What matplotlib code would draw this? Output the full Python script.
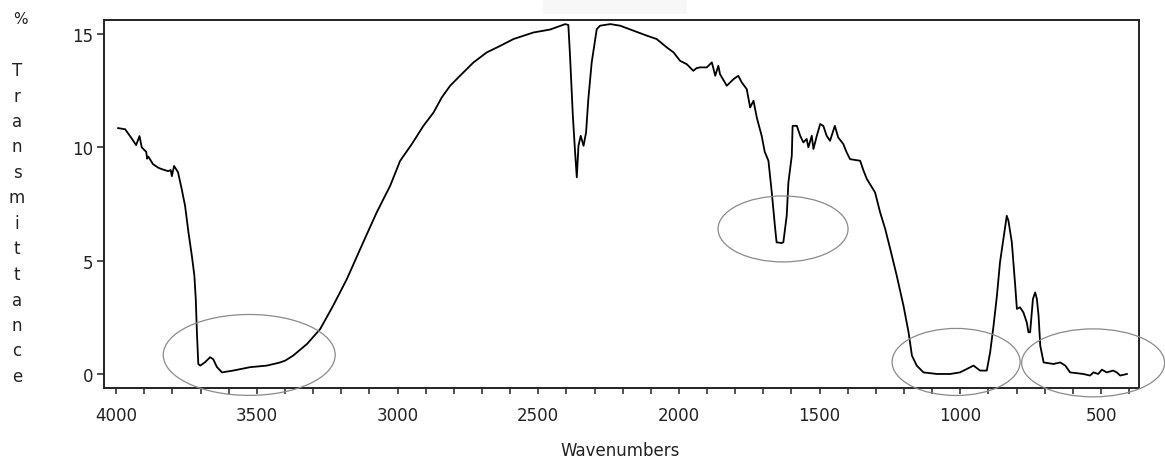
import matplotlib
matplotlib.use('Agg')
import matplotlib.pyplot as plt
from matplotlib.patches import Ellipse, Rectangle
from matplotlib.ticker import MultipleLocator

plt.rcParams['font.family'] = ['DejaVu Sans']

# spectrum (wavenumber cm-1, % transmittance)
wavenumber = [3993, 3968, 3945, 3929, 3917, 3909, 3893, 3890, 3886, 3869, 3850,
              3838, 3815, 3806, 3802, 3794, 3780, 3767, 3755, 3743, 3731, 3722,
              3717, 3713, 3708, 3701, 3684, 3666, 3655, 3642, 3624, 3584, 3524,
              3464, 3420, 3399, 3371, 3322, 3275, 3229, 3180, 3122, 3074, 3026,
              2991, 2949, 2908, 2872, 2843, 2813, 2778, 2730, 2683, 2635, 2588,
              2517, 2458, 2404, 2393, 2387, 2377, 2369, 2363, 2357, 2349, 2339,
              2330, 2322, 2310, 2292, 2280, 2244, 2209, 2162, 2114, 2079, 2043,
              2019, 1996, 1972, 1949, 1937, 1925, 1901, 1883, 1871, 1860, 1854,
              1830, 1806, 1789, 1777, 1759, 1747, 1735, 1723, 1706, 1695, 1682,
              1670, 1659, 1653, 1635, 1629, 1617, 1611, 1599, 1596, 1581, 1569,
              1558, 1546, 1540, 1528, 1522, 1510, 1498, 1487, 1475, 1463, 1446,
              1434, 1416, 1404, 1392, 1356, 1344, 1332, 1303, 1285, 1267, 1249,
              1226, 1202, 1184, 1172, 1155, 1131, 1083, 1036, 1001, 977, 953,
              930, 906, 894, 882, 870, 859, 847, 835, 829, 817, 805, 799, 788,
              776, 764, 758, 752, 742, 734, 728, 722, 716, 704, 669, 645, 627,
              610, 563, 539, 527, 510, 497, 480, 457, 444, 432, 408]
transmittance = [10.85, 10.8, 10.4, 10.1, 10.5, 10.0, 9.8, 9.5, 9.6, 9.26, 9.1,
                 9.04, 8.95, 9.0, 8.73, 9.18, 8.9, 8.16, 7.42, 6.25, 5.22, 4.34,
                 3.31, 1.84, 0.44, 0.37, 0.52, 0.74, 0.65, 0.31, 0.07, 0.15, 0.3,
                 0.37, 0.5, 0.59, 0.81, 1.32, 1.98, 3.01, 4.19, 5.81, 7.13, 8.31,
                 9.4, 10.15, 10.95, 11.54, 12.2, 12.72, 13.16, 13.75, 14.19, 14.48, 14.78,
                 15.07, 15.2, 15.44, 15.4, 14.04, 11.4, 9.78, 8.68, 10.07, 10.51, 10.07,
                 10.66, 12.13, 13.75, 15.22, 15.37, 15.44, 15.37, 15.15, 14.93, 14.78, 14.41,
                 14.19, 13.82, 13.67, 13.38, 13.5, 13.53, 13.53, 13.75, 13.16, 13.6, 13.23,
                 12.72, 13.01, 13.16, 12.87, 12.57, 11.76, 12.06, 11.3, 10.51, 9.8, 9.41,
                 8.01, 6.54, 5.81, 5.78, 5.81, 6.98, 8.45, 9.63, 10.95, 10.95, 10.51,
                 10.22, 10.37, 10.0, 10.51, 9.93, 10.51, 11.03, 10.95, 10.51, 10.29, 10.95,
                 10.44, 10.15, 9.78, 9.48, 9.41, 8.97, 8.6, 8.01, 7.13, 6.4, 5.51,
                 4.34, 3.01, 1.84, 0.81, 0.37, 0.07, 0.0, 0.0, 0.07, 0.22, 0.37,
                 0.15, 0.15, 0.96, 2.13, 3.45, 4.93, 5.96, 6.98, 6.76, 5.81, 3.9, 2.87, 2.94,
                 2.72, 2.28, 1.84, 1.84, 3.31, 3.6, 3.31, 2.57, 1.25, 0.51, 0.44, 0.51, 0.37,
                 0.07, 0.0, -0.07, 0.07, 0.0, 0.19, 0.07, 0.15, 0.07, -0.07, 0.0]

# marked bands: (centre wavenumber, centre %T, width, height)
bands = [(3527, 0.84, 611, 3.57),
         (1630, 6.4, 462, 2.91),
         (1015, 0.53, 455, 2.96),
         (528, 0.49, 508, 3.0)]

fig = plt.figure(figsize=(11.65, 4.6), dpi=100)
ax = fig.add_axes([0.0893, 0.1543, 0.8884, 0.8])

ax.plot(wavenumber, transmittance, color='black', lw=1.3)

for cx, cy, w, h in bands:
    ax.add_patch(Ellipse((cx, cy), w, h, fill=False, edgecolor='#8a8a8a',
                         lw=0.9, clip_on=False, zorder=3))

ax.set_xlim(4043, 365)
ax.set_ylim(-0.62, 15.62)
ax.xaxis.set_major_locator(MultipleLocator(500))
ax.xaxis.set_minor_locator(MultipleLocator(100))
ax.yaxis.set_major_locator(MultipleLocator(5))

for s in ax.spines.values():
    s.set_linewidth(1.4)
    s.set_color('#222222')

ax.tick_params(axis='x', which='both', direction='out', length=4, width=1.1,
               pad=9, labelsize=12, colors='#222222')
ax.tick_params(axis='y', direction='out', length=5, width=1.1, pad=3,
               labelsize=12, colors='#222222')

# vertical stacked y label
fig.text(20 / 1165, 1 - 20 / 460, '%', ha='center', va='center', fontsize=11,
         color='#222222')
for i, ch in enumerate('Transmittance'):
    fig.text(17 / 1165, 1 - (76 + i * 25.5) / 460, ch, ha='center',
             va='baseline', fontsize=12, color='#222222')

fig.text(620 / 1165, 1 - 456 / 460, 'Wavenumbers', ha='center', va='baseline',
         fontsize=12, color='#222222')

# faint box at the top
fig.patches.append(Rectangle((543 / 1165, 1 - 15 / 460), 144 / 1165, 15 / 460,
                             transform=fig.transFigure, facecolor='#f7f7f7',
                             edgecolor='none'))

fig.savefig('out.png', dpi=100, facecolor='white')
